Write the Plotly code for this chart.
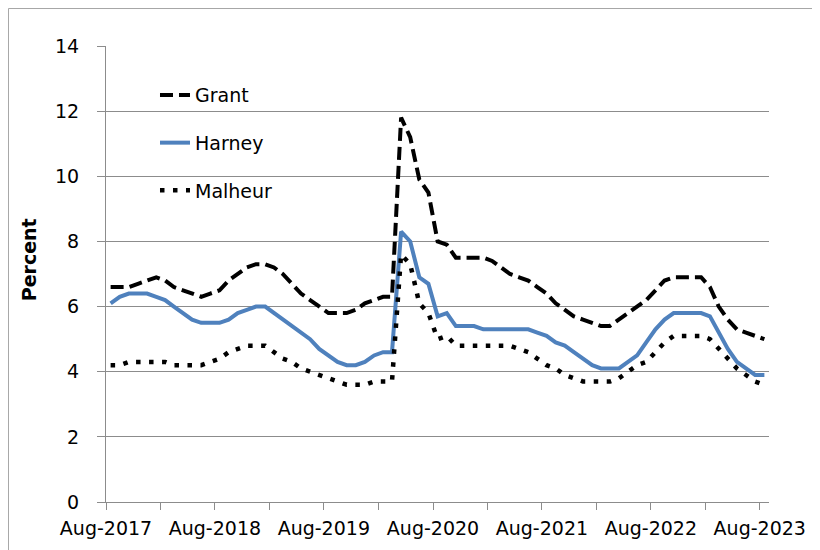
import pandas as pd
import plotly.graph_objects as go

months = pd.date_range("2017-08-01", "2023-08-01", freq="MS")

grant = [6.6, 6.6, 6.6, 6.7, 6.8, 6.9, 6.8, 6.6, 6.5, 6.4, 6.3, 6.4,
         6.5, 6.8, 7.0, 7.2, 7.3, 7.3, 7.2, 7.0, 6.7, 6.4, 6.2, 6.0,
         5.8, 5.8, 5.8, 5.9, 6.1, 6.2, 6.3, 6.3, 11.8, 11.2, 9.9, 9.5,
         8.0, 7.9, 7.5, 7.5, 7.5, 7.5, 7.4, 7.2, 7.0, 6.9, 6.8, 6.6,
         6.4, 6.1, 5.9, 5.7, 5.6, 5.5, 5.4, 5.4, 5.6, 5.8, 6.0, 6.2,
         6.5, 6.8, 6.9, 6.9, 6.9, 6.9, 6.6, 6.0, 5.6, 5.3, 5.2, 5.1,
         5.0]
harney = [6.1, 6.3, 6.4, 6.4, 6.4, 6.3, 6.2, 6.0, 5.8, 5.6, 5.5, 5.5,
          5.5, 5.6, 5.8, 5.9, 6.0, 6.0, 5.8, 5.6, 5.4, 5.2, 5.0, 4.7,
          4.5, 4.3, 4.2, 4.2, 4.3, 4.5, 4.6, 4.6, 8.3, 8.0, 6.9, 6.7,
          5.7, 5.8, 5.4, 5.4, 5.4, 5.3, 5.3, 5.3, 5.3, 5.3, 5.3, 5.2,
          5.1, 4.9, 4.8, 4.6, 4.4, 4.2, 4.1, 4.1, 4.1, 4.3, 4.5, 4.9,
          5.3, 5.6, 5.8, 5.8, 5.8, 5.8, 5.7, 5.2, 4.7, 4.3, 4.1, 3.9,
          3.9]
malheur = [4.2, 4.2, 4.3, 4.3, 4.3, 4.3, 4.3, 4.2, 4.2, 4.2, 4.2, 4.3,
           4.4, 4.6, 4.7, 4.8, 4.8, 4.8, 4.6, 4.4, 4.3, 4.1, 4.0, 3.9,
           3.8, 3.7, 3.6, 3.6, 3.6, 3.7, 3.7, 3.7, 7.6, 7.3, 6.1, 5.8,
           5.0, 5.1, 4.8, 4.8, 4.8, 4.8, 4.8, 4.8, 4.8, 4.7, 4.6, 4.4,
           4.2, 4.1, 3.9, 3.8, 3.7, 3.7, 3.7, 3.7, 3.8, 4.0, 4.2, 4.3,
           4.6, 4.9, 5.1, 5.1, 5.1, 5.1, 5.0, 4.7, 4.4, 4.1, 3.9, 3.7,
           3.6]

FONT = "DejaVu Sans"
GRID = "#8c8c8c"

fig = go.Figure()
fig.add_trace(go.Scatter(x=months, y=grant, name="Grant", mode="lines",
                         legendgroup="g1", xperiod="M1", xperiodalignment="middle",
                         line=dict(color="black", width=4, dash="13px,6px")))
fig.add_trace(go.Scatter(x=months, y=harney, name="Harney", mode="lines",
                         legendgroup="g2", xperiod="M1", xperiodalignment="middle",
                         line=dict(color="#4F81BD", width=4)))
fig.add_trace(go.Scatter(x=months, y=malheur, name="Malheur", mode="lines",
                         legendgroup="g3", xperiod="M1", xperiodalignment="middle",
                         line=dict(color="black", width=4.5, dash="4.5px,8.5px")))

fig.update_layout(
    width=820, height=550,
    margin=dict(l=98, r=59, t=38, b=55.5),
    paper_bgcolor="white", plot_bgcolor="white",
    font=dict(family=FONT, size=19, color="black"),
    showlegend=True,
    legend=dict(x=0.0739, y=0.934, xanchor="left", yanchor="top",
                traceorder="grouped", tracegroupgap=20,
                bgcolor="rgba(0,0,0,0)", font=dict(family=FONT, size=19)),
    annotations=[dict(text="<b>Percent</b>", textangle=-90, xref="paper", yref="paper",
                      x=-0.117, y=0.531, xanchor="center", yanchor="middle",
                      showarrow=False,
                      font=dict(family=FONT, size=19, color="black"))],
    shapes=[
        dict(type="line", xref="paper", yref="paper", x0=-0.1471, x1=-0.1471,
             y0=-0.13, y1=1.0822, line=dict(color="#a6a6a6", width=1)),
        dict(type="line", xref="paper", yref="paper", x0=-0.1471, x1=1.1,
             y0=1.0822, y1=1.0822, line=dict(color="#a6a6a6", width=1)),
    ],
)

fig.update_xaxes(
    type="date", range=["2017-08-01", "2023-09-01"],
    tick0="2017-08-01", dtick="M12", tickformat="%b-%Y",
    showgrid=False, zeroline=False,
    showline=True, linecolor=GRID, linewidth=1,
    ticks="outside", ticklen=7, tickcolor=GRID, tickwidth=1,
    ticklabelstandoff=2,
    tickfont=dict(family=FONT, size=19, color="black"),
    minor=dict(dtick="M6", tick0="2017-08-01", ticks="outside", ticklen=7,
               tickcolor=GRID, tickwidth=1, showgrid=False),
)
fig.update_yaxes(
    range=[0, 14], dtick=2, tick0=0,
    showgrid=True, gridcolor=GRID, gridwidth=1, zeroline=False,
    showline=True, linecolor=GRID, linewidth=1,
    ticks="outside", ticklen=8, tickcolor=GRID, tickwidth=1,
    ticklabelstandoff=14,
    tickfont=dict(family=FONT, size=19, color="black"),
)

fig.write_html("out.html")
